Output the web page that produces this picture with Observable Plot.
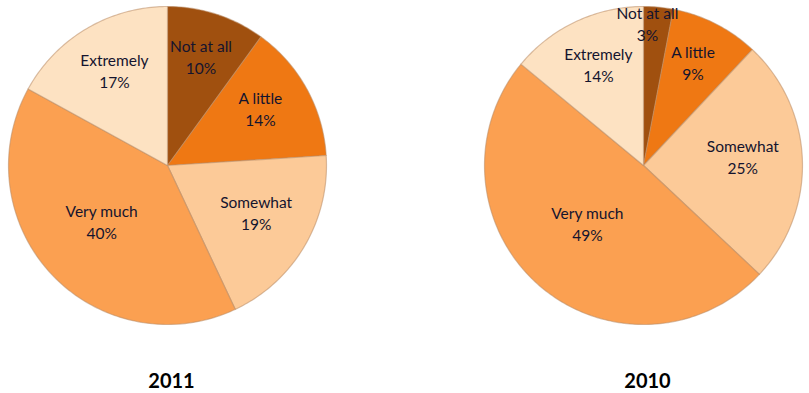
<!DOCTYPE html>
<html>
<head>
<meta charset="utf-8">
<script src="https://cdn.jsdelivr.net/npm/d3@7"></script>
<script src="https://cdn.jsdelivr.net/npm/@observablehq/plot@0.6"></script>
<style>
  html, body { margin: 0; padding: 0; background: #fff; }
  #chart svg { display: block; }
</style>
</head>
<body>
<div id="chart"></div>
<script>
// ---- data ----
const categories = ["Not at all", "A little", "Somewhat", "Very much", "Extremely"];
const values2011 = [10, 14, 19, 40, 17];
const values2010 = [3, 9, 25, 49, 14];
const years = ["2011", "2010"];
const colors = ["#A0500F", "#EF7813", "#FCCA98", "#FBA051", "#FDE2C2"];

// ---- layout ----
const W = 809, H = 393;
const R = 159;
const centers = [[167, 165], [643, 165]];
const titleY = 381;

const series = [values2011, values2010];
const pie = d3.pie().sort(null).value(d => d.value);

const slices = [];
const labels = [];
series.forEach((vals, i) => {
  const [cx, cy] = centers[i];
  const total = d3.sum(vals);
  const rows = categories.map((c, k) => ({category: c, value: vals[k], year: years[i]}));
  pie(rows).forEach(a => {
    const coords = [[cx, cy]];
    const n = Math.max(2, Math.ceil((a.endAngle - a.startAngle) / (Math.PI / 180)));
    for (let j = 0; j <= n; j++) {
      const t = a.startAngle + (a.endAngle - a.startAngle) * j / n;
      coords.push([cx + R * Math.sin(t), cy - R * Math.cos(t)]);
    }
    coords.push([cx, cy]);
    slices.push({
      type: "Feature",
      properties: {category: a.data.category, year: a.data.year},
      geometry: {type: "Polygon", coordinates: [coords]}
    });
    const p = a.data.value / total;
    // tiny slices: label pushed outward and toward the slice's leading edge
    const mid = p < 0.05 ? a.startAngle + (a.endAngle - a.startAngle) * 0.15
                         : (a.startAngle + a.endAngle) / 2;
    const lr = p < 0.05 ? 0.86 * R : R * (0.72 - 0.38 * p);
    labels.push({
      text: `${a.data.category}\n${a.data.value}%`,
      x: cx + lr * Math.sin(mid),
      y: cy - lr * Math.cos(mid)
    });
  });
});

const titles = years.map((y, i) => ({text: y, x: centers[i][0] + 4, y: titleY}));

const plot = Plot.plot({
  width: W,
  height: H,
  margin: 0,
  projection: d3.geoIdentity(),
  color: {domain: categories, range: colors},
  style: {fontFamily: "Lato, 'Open Sans', sans-serif", background: "#fff"},
  marks: [
    Plot.geo(slices, {
      fill: d => d.properties.category,
      stroke: "#b98c66",
      strokeOpacity: 0.55,
      strokeWidth: 1.2
    }),
    Plot.text(labels, {
      x: "x", y: "y", text: "text", dy: -6,
      fontSize: 15.5, lineHeight: 1.42, fill: "#14142e"
    }),
    Plot.text(titles, {
      x: "x", y: "y", text: "text",
      fontSize: 20, fontWeight: "bold", fill: "#000"
    })
  ]
});

document.getElementById("chart").appendChild(plot);
</script>
</body>
</html>
